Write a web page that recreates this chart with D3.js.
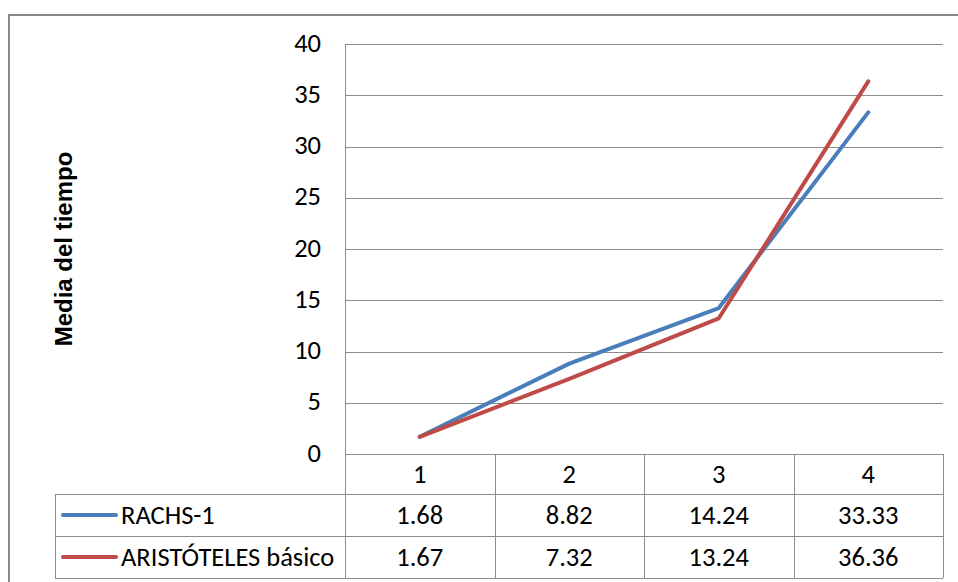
<!DOCTYPE html>
<html>
<head>
<meta charset="utf-8">
<script src="https://cdn.jsdelivr.net/npm/d3@7"></script>
<style>
  html, body { margin: 0; padding: 0; background: #fff; }
  svg { display: block; }
  text { font-family: Calibri, Carlito, "Liberation Sans", Arial, sans-serif; fill: #000; }
</style>
</head>
<body>
<svg id="chart" width="958" height="582"></svg>
<script>
// Data
const categories = ["1", "2", "3", "4"];
const seriesNames = ["RACHS-1", "ARISTÓTELES básico"];
const racchsValues = [1.68, 8.82, 14.24, 33.33];
const aristotelesValues = [1.67, 7.32, 13.24, 36.36];
const yTicks = [0, 5, 10, 15, 20, 25, 30, 35, 40];
const yTitle = "Media del tiempo";
const seriesColors = ["#4a7ebb", "#be4b48"];

const series = [
  { name: seriesNames[0], values: racchsValues, color: seriesColors[0] },
  { name: seriesNames[1], values: aristotelesValues, color: seriesColors[1] }
];

const svg = d3.select("#chart");

// Layout
const plot = { left: 345, right: 943, top: 44, bottom: 454 };
const rowH = 42;
const headerH = 40;
const legendLeft = 55;
const gridColor = "#8c8c8c";
const fontSize = "26.5px";

const x = d3.scaleBand().domain(categories).range([plot.left, plot.right]).padding(0);
const y = d3.scaleLinear().domain([0, 40]).range([plot.bottom, plot.top]);

// Outer chart frame
svg.append("rect")
  .attr("x", 9).attr("y", 15)
  .attr("width", 1000).attr("height", 600)
  .attr("fill", "none").attr("stroke", "#888").attr("stroke-width", 2);

// Horizontal gridlines
svg.append("g").selectAll("line").data(yTicks).join("line")
  .attr("x1", plot.left).attr("x2", plot.right)
  .attr("y1", d => Math.round(y(d)) + 0.5).attr("y2", d => Math.round(y(d)) + 0.5)
  .attr("stroke", gridColor).attr("stroke-width", 1);

// Y tick labels
svg.append("g").selectAll("text").data(yTicks).join("text")
  .attr("x", 321).attr("y", d => y(d) - 1)
  .attr("dy", "0.33em")
  .attr("text-anchor", "end")
  .style("font-size", fontSize)
  .text(d => d);

// Y axis title
svg.append("text")
  .attr("transform", `translate(72,${(plot.top + plot.bottom) / 2}) rotate(-90)`)
  .attr("text-anchor", "middle")
  .style("font-family", "'Liberation Sans', Arial, sans-serif")
  .style("font-size", "24px")
  .style("font-weight", "bold")
  .text(yTitle);

// Data table grid
const tableTop = plot.bottom;
const headerBottom = tableTop + headerH;
const tableBottom = headerBottom + rowH * series.length;
const g = svg.append("g").attr("stroke", gridColor).attr("stroke-width", 1);

// Left value axis line, running down through the table
g.append("line")
  .attr("x1", plot.left + 0.5).attr("x2", plot.left + 0.5)
  .attr("y1", plot.top).attr("y2", tableBottom);

// Column dividers
const colEdges = categories.map(c => x(c) + x.bandwidth());
g.selectAll("line.col").data(colEdges).join("line").attr("class", "col")
  .attr("x1", d => Math.round(d) + 0.5).attr("x2", d => Math.round(d) + 0.5)
  .attr("y1", tableTop).attr("y2", tableBottom);

// Row lines
const rowLines = [headerBottom, headerBottom + rowH, tableBottom];
g.selectAll("line.row").data(rowLines).join("line").attr("class", "row")
  .attr("x1", legendLeft).attr("x2", plot.right)
  .attr("y1", d => d + 0.5).attr("y2", d => d + 0.5);

// Legend column left edge
g.append("line")
  .attr("x1", legendLeft + 0.5).attr("x2", legendLeft + 0.5)
  .attr("y1", headerBottom).attr("y2", tableBottom);

// Category header labels
svg.append("g").selectAll("text").data(categories).join("text")
  .attr("x", d => x(d) + x.bandwidth() / 2)
  .attr("y", tableTop + headerH / 2)
  .attr("dy", "0.33em")
  .attr("text-anchor", "middle")
  .style("font-size", fontSize)
  .text(d => d);

// Table rows: legend key + values
series.forEach((s, i) => {
  const rowMid = headerBottom + rowH * i + rowH / 2;
  svg.append("line")
    .attr("x1", 63).attr("x2", 116)
    .attr("y1", rowMid).attr("y2", rowMid)
    .attr("stroke", s.color).attr("stroke-width", 4)
    .attr("stroke-linecap", "round");
  svg.append("text")
    .attr("x", 121).attr("y", rowMid)
    .attr("dy", "0.33em")
    .style("font-size", fontSize)
    .text(s.name);
  svg.append("g").selectAll("text").data(s.values).join("text")
    .attr("x", (d, j) => x(categories[j]) + x.bandwidth() / 2)
    .attr("y", rowMid)
    .attr("dy", "0.33em")
    .attr("text-anchor", "middle")
    .style("font-size", fontSize)
    .text(d => d.toFixed(2));
});

// Series lines
const line = d3.line()
  .x((d, j) => x(categories[j]) + x.bandwidth() / 2)
  .y(d => y(d));

svg.append("g").selectAll("path").data(series).join("path")
  .attr("d", s => line(s.values))
  .attr("fill", "none")
  .attr("stroke", s => s.color)
  .attr("stroke-width", 4)
  .attr("stroke-linecap", "round")
  .attr("stroke-linejoin", "round");
</script>
</body>
</html>
